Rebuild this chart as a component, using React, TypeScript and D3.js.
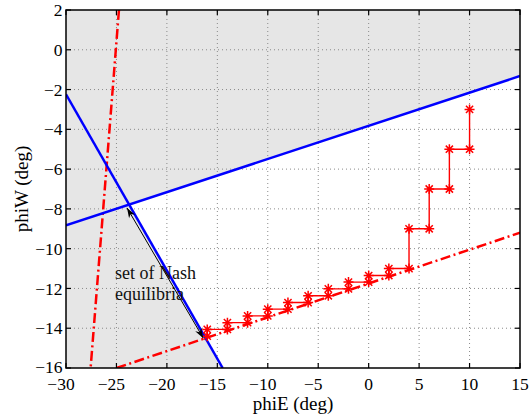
import React from 'react';
import * as d3 from 'd3';

// axes
const xTicks = [-30, -25, -20, -15, -10, -5, 0, 5, 10, 15];
const yTicks = [2, 0, -2, -4, -6, -8, -10, -12, -14, -16];

// reaction lines (phiE, phiW end points)
const blueUpE = [-30, 15];
const blueUpW = [-8.83, -1.32];
const blueDownE = [-30, -14.47];
const blueDownW = [-2.24, -16];
const redSteepE = [-24.75, -27.56];
const redSteepW = [2, -16];
const redLowE = [-25, 15];
const redLowW = [-16, -9.2];

// iteration staircase
const stairE = [-16, -16, -14, -14, -12, -12, -10, -10, -8, -8, -6, -6, -4, -4, -2, -2, 0, 0, 2, 2, 4, 4, 6, 6, 8, 8, 10, 10];
const stairW = [-14.4, -14.06, -14.06, -13.72, -13.72, -13.38, -13.38, -13.04, -13.04, -12.71, -12.71, -12.37, -12.37, -12.02, -12.02, -11.68, -11.68, -11.35, -11.35, -11.0, -11.0, -9, -9, -7, -7, -5, -5, -3];

// annotation
const noteLines = ['set of Nash', 'equilibria'];
const noteAt = [-25.15, -11.5];
const arrowE = [-23.95, -16.39];
const arrowW = [-7.95, -14.5];

const W = 531, H = 416;
const m = { left: 66, right: 11, top: 10, bottom: 48 };
const font = '"Liberation Serif", "Times New Roman", serif';

const fmt = (v: number) => (v < 0 ? '\u2212' + Math.abs(v) : String(v));

function arrowHead(tx: number, ty: number, fx: number, fy: number) {
  const dx = tx - fx, dy = ty - fy;
  const len = Math.hypot(dx, dy);
  const ux = dx / len, uy = dy / len;
  const px = -uy, py = ux;
  const L = 10, w = 3.5, notch = 3;
  const bx = tx - ux * L, by = ty - uy * L;
  const nx = tx - ux * (L - notch), ny = ty - uy * (L - notch);
  return `M${tx},${ty}L${bx + px * w},${by + py * w}L${nx},${ny}L${bx - px * w},${by - py * w}Z`;
}

export default function App() {
  const x = d3.scaleLinear().domain([-30, 15]).range([m.left, W - m.right]);
  const y = d3.scaleLinear().domain([-16, 2]).range([H - m.bottom, m.top]);
  const [x0, x1] = x.range();
  const [y0, y1] = y.range();

  // intersection of the two blue lines -> white (non gray) region
  const a1 = (blueUpW[1] - blueUpW[0]) / (blueUpE[1] - blueUpE[0]);
  const a2 = (blueDownW[1] - blueDownW[0]) / (blueDownE[1] - blueDownE[0]);
  const ie = (blueDownW[0] - blueUpW[0] + a1 * blueUpE[0] - a2 * blueDownE[0]) / (a1 - a2);
  const iw = blueUpW[0] + a1 * (ie - blueUpE[0]);
  const whitePts: [number, number][] = [
    [ie, iw], [blueUpE[1], blueUpW[1]], [15, -16], [blueDownE[1], blueDownW[1]],
  ];
  const poly = d3.line<[number, number]>().x(d => x(d[0])).y(d => y(d[1]));

  const seg = (es: number[], ws: number[]) =>
    poly(es.map((e, i) => [e, ws[i]] as [number, number])) || '';

  const stairPts = stairE.map((e, i) => [e, stairW[i]] as [number, number]);

  const ax0 = x(arrowE[0]), ay0 = y(arrowW[0]), ax1 = x(arrowE[1]), ay1 = y(arrowW[1]);

  return (
    <svg width={W} height={H} style={{ position: 'absolute', left: 0, top: 0, background: '#fff' }}
      fontFamily={font}>
      <defs>
        <clipPath id="plot">
          <rect x={x0} y={y1} width={x1 - x0} height={y0 - y1} />
        </clipPath>
      </defs>
      <rect x={x0} y={y1} width={x1 - x0} height={y0 - y1} fill="#e6e6e6" />
      <g clipPath="url(#plot)">
        <path d={poly(whitePts) + 'Z'} fill="#fff" />
      </g>

      {/* grid */}
      <g stroke="#8a8a8a" strokeWidth={1} strokeDasharray="1,3">
        {xTicks.slice(1, -1).map(t => (
          <line key={'gx' + t} x1={x(t)} x2={x(t)} y1={y0} y2={y1} />
        ))}
        {yTicks.slice(1, -1).map(t => (
          <line key={'gy' + t} x1={x0} x2={x1} y1={y(t)} y2={y(t)} />
        ))}
      </g>

      <g clipPath="url(#plot)" fill="none">
        <path d={seg(redSteepE, redSteepW)} stroke="#ff0000" strokeWidth={2.5} strokeDasharray="10,3.5,2,3.5" />
        <path d={seg(redLowE, redLowW)} stroke="#ff0000" strokeWidth={2.5} strokeDasharray="10,3.5,2,3.5" />
        <path d={seg(blueUpE, blueUpW)} stroke="#0000ff" strokeWidth={2.5} />
        <path d={seg(blueDownE, blueDownW)} stroke="#0000ff" strokeWidth={2.5} />
        <path d={poly(stairPts) || ''} stroke="#ff0000" strokeWidth={1.4} />
        <g stroke="#ff0000" strokeWidth={1.5}>
          {stairPts.map((p, i) => {
            const cx = x(p[0]), cy = y(p[1]), r = 5, d = r * 0.72;
            return (
              <path key={'m' + i}
                d={`M${cx - r},${cy}H${cx + r}M${cx},${cy - r}V${cy + r}M${cx - d},${cy - d}L${cx + d},${cy + d}M${cx - d},${cy + d}L${cx + d},${cy - d}`} />
            );
          })}
        </g>
      </g>

      {/* annotation */}
      <text x={x(noteAt[0])} y={y(noteAt[1])} fontSize={18} fill="#111">
        {noteLines.map((s, i) => (
          <tspan key={s} x={x(noteAt[0])} dy={i === 0 ? 0 : 21}>{s}</tspan>
        ))}
      </text>
      <line x1={ax0} y1={ay0} x2={ax1} y2={ay1} stroke="#000" strokeWidth={1} />
      <path d={arrowHead(ax0, ay0, ax1, ay1)} fill="#000" />
      <path d={arrowHead(ax1, ay1, ax0, ay0)} fill="#000" />

      {/* axes box and ticks */}
      <rect x={x0} y={y1} width={x1 - x0} height={y0 - y1} fill="none" stroke="#000" strokeWidth={1.5} />
      <g stroke="#000" strokeWidth={1.2}>
        {xTicks.map(t => (
          <g key={'tx' + t}>
            <line x1={x(t)} x2={x(t)} y1={y0} y2={y0 - 5} />
            <line x1={x(t)} x2={x(t)} y1={y1} y2={y1 + 5} />
          </g>
        ))}
        {yTicks.map(t => (
          <g key={'ty' + t}>
            <line x1={x0} x2={x0 + 5} y1={y(t)} y2={y(t)} />
            <line x1={x1} x2={x1 - 5} y1={y(t)} y2={y(t)} />
          </g>
        ))}
      </g>
      <g fontSize={17.5} fill="#000">
        {xTicks.map(t => (
          <text key={'lx' + t} x={x(t) - (t < 0 ? 5 : 0)} y={y0 + 22} textAnchor="middle">{fmt(t)}</text>
        ))}
        {yTicks.map(t => (
          <text key={'ly' + t} x={x0 - 3.5} y={y(t) - (t === -16 ? 1 : 0)} dy="0.35em" textAnchor="end">{fmt(t)}</text>
        ))}
      </g>
      <text x={(x0 + x1) / 2} y={410} textAnchor="middle" fontSize={19} fill="#000">phiE (deg)</text>
      <text transform={`translate(21,${(y0 + y1) / 2}) rotate(-90)`} dy="0.35em" textAnchor="middle" fontSize={19} fill="#000">phiW (deg)</text>
    </svg>
  );
}
